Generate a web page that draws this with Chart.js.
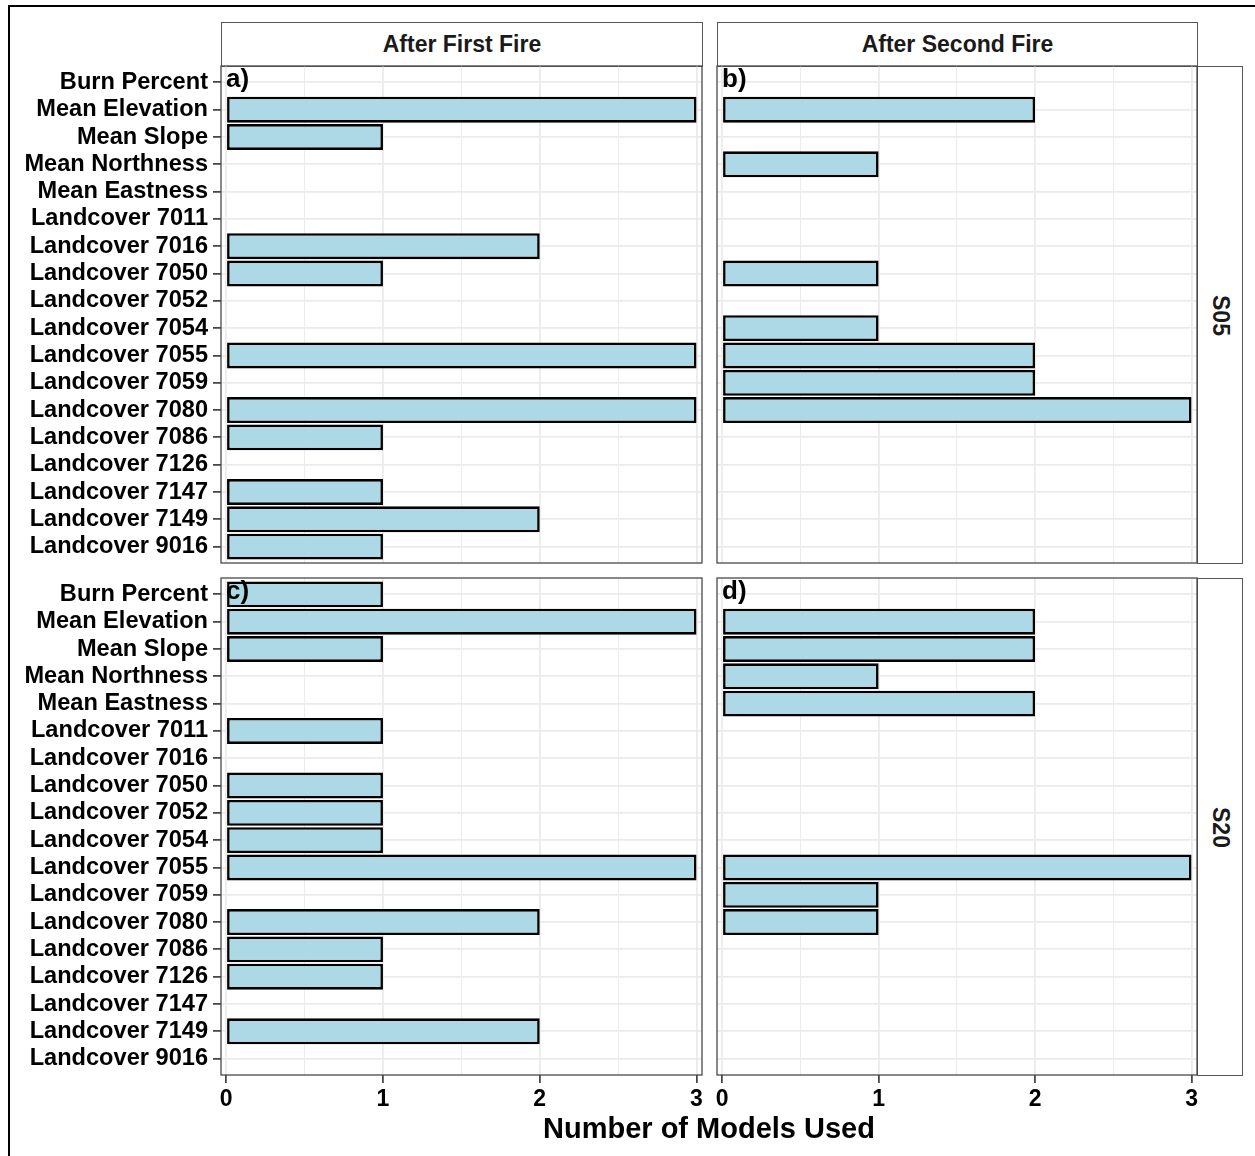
<!DOCTYPE html>
<html>
<head>
<meta charset="utf-8">
<script src="https://cdn.jsdelivr.net/npm/chart.js@4/dist/chart.umd.min.js"></script>
<style>
  html, body { margin: 0; padding: 0; background: #fff; }
  body { width: 1255px; height: 1156px; position: relative; overflow: hidden;
         font-family: "Liberation Sans", Arial, sans-serif; }
  .frame { position: absolute; left: 8px; top: 5px; width: 1300px; height: 1200px;
           border-left: 2px solid #000; border-top: 2px solid #000; }
  .strip { position: absolute; box-sizing: border-box; border: 1.3px solid #555; background: #fff;
           font-weight: bold; font-size: 23px; color: #1a1a1a;
           display: flex; align-items: center; justify-content: center; }
  .strip.side { writing-mode: vertical-rl; }
  .holder { position: absolute; }
  .xtitle { position: absolute; left: 221px; width: 976px; top: 1112px; text-align: center;
            font-weight: bold; font-size: 29px; color: #000; }
</style>
</head>
<body>
<div class="frame"></div>

<div class="strip" style="left:221px;top:22px;width:482px;height:45px;">After First Fire</div>
<div class="strip" style="left:717px;top:22px;width:481px;height:45px;">After Second Fire</div>
<div class="strip side" style="left:1197px;top:66px;width:46px;height:498px;">S05</div>
<div class="strip side" style="left:1197px;top:578px;width:46px;height:498px;">S20</div>

<div class="holder" id="pa"><canvas id="ca"></canvas></div>
<div class="holder" id="pb"><canvas id="cb"></canvas></div>
<div class="holder" id="pc"><canvas id="cc"></canvas></div>
<div class="holder" id="pd"><canvas id="cd"></canvas></div>

<div class="xtitle">Number of Models Used</div>

<script>
// Predictors listed top to bottom
const predictors = [
  "Burn Percent", "Mean Elevation", "Mean Slope", "Mean Northness", "Mean Eastness",
  "Landcover 7011", "Landcover 7016", "Landcover 7050", "Landcover 7052", "Landcover 7054",
  "Landcover 7055", "Landcover 7059", "Landcover 7080", "Landcover 7086", "Landcover 7126",
  "Landcover 7147", "Landcover 7149", "Landcover 9016"
];

// Number of models using each predictor
const s05FirstFire  = [0, 3, 1, 0, 0, 0, 2, 1, 0, 0, 3, 0, 3, 1, 0, 1, 2, 1];
const s05SecondFire = [0, 2, 0, 1, 0, 0, 0, 1, 0, 1, 2, 2, 3, 0, 0, 0, 0, 0];
const s20FirstFire  = [1, 3, 1, 0, 0, 1, 0, 1, 1, 1, 3, 0, 2, 1, 1, 0, 2, 0];
const s20SecondFire = [0, 2, 2, 1, 2, 0, 0, 0, 0, 0, 3, 1, 1, 0, 0, 0, 0, 0];

// Value axis: grid positions and labelled ticks
const xGridValues = [0, 0.5, 1, 1.5, 2, 2.5, 3];
const xTickLabels = [0, 1, 2, 3];

const panelTags = ["a)", "b)", "c)", "d)"];

const PAD = 24;
const FONT = '"Liberation Sans", Arial, sans-serif';

// Border and tag drawn on top of each panel
const panelDecor = {
  id: 'panelDecor',
  afterDatasetsDraw(chart, args, opts) {
    const a = chart.chartArea, ctx = chart.ctx;
    ctx.save();
    ctx.strokeStyle = '#4a4a4a';
    ctx.lineWidth = 1.3;
    ctx.strokeRect(a.left, a.top, a.right - a.left, a.bottom - a.top);
    ctx.fillStyle = '#000';
    ctx.font = 'bold 26px ' + FONT;
    ctx.textBaseline = 'top';
    ctx.textAlign = 'left';
    ctx.fillText(opts.tag, a.left + 5, a.top + 1);
    ctx.restore();
  }
};

function makePanel(holderId, canvasId, rect, values, tag, showY, showX) {
  const yw = showY ? 197 : 0;
  const xh = showX ? 40 : 0;
  const w = (rect.r - rect.l) + yw + 2 * PAD;
  const h = (rect.b - rect.t) + xh + 2 * PAD;
  const holder = document.getElementById(holderId);
  holder.style.left = (rect.l - yw - PAD) + 'px';
  holder.style.top = (rect.t - PAD) + 'px';
  holder.style.width = w + 'px';
  holder.style.height = h + 'px';
  const cv = document.getElementById(canvasId);
  cv.width = w; cv.height = h;
  cv.style.width = w + 'px'; cv.style.height = h + 'px';

  new Chart(cv, {
    type: 'bar',
    data: {
      datasets: [{
        data: values.map((v, i) => ({ x: v, y: i })),
        backgroundColor: '#ADD8E6',
        borderColor: '#000',
        borderWidth: c => (c.raw && c.raw.x > 0) ? 2.6 : 0,
        borderSkipped: false,
        barPercentage: 0.95,
        categoryPercentage: 1.0
      }]
    },
    options: {
      indexAxis: 'y',
      responsive: false,
      devicePixelRatio: 1,
      animation: false,
      layout: { padding: PAD },
      plugins: {
        legend: { display: false },
        tooltip: { enabled: false },
        panelDecor: { tag: tag }
      },
      scales: {
        x: {
          type: 'linear',
          min: -0.033,
          max: 3.035,
          offset: false,
          border: { display: false },
          afterBuildTicks: s => { s.ticks = xGridValues.map(v => ({ value: v })); },
          afterFit: s => { s.height = xh; },
          grid: {
            offset: false,
            color: '#EBEBEB',
            lineWidth: c => Number.isInteger(c.tick.value) ? 1.8 : 0.9,
            drawTicks: showX,
            tickLength: 8,
            tickColor: c => Number.isInteger(c.tick.value) ? '#333' : 'rgba(0,0,0,0)',
            tickWidth: 1.6
          },
          ticks: {
            display: showX,
            autoSkip: false,
            maxRotation: 0,
            padding: 3,
            color: '#000',
            font: { family: FONT, size: 23, weight: 'bold' },
            callback: v => xTickLabels.includes(v) ? String(v) : ''
          }
        },
        y: {
          type: 'linear',
          reverse: true,
          min: -0.6,
          max: predictors.length - 1 + 0.6,
          offset: false,
          border: { display: false },
          afterBuildTicks: s => { s.ticks = predictors.map((p, i) => ({ value: i })); },
          afterFit: s => { s.width = yw; },
          grid: {
            offset: false,
            color: '#EBEBEB',
            lineWidth: 1.8,
            drawTicks: showY,
            tickLength: 8,
            tickColor: '#333',
            tickWidth: 1.6
          },
          ticks: {
            display: showY,
            autoSkip: false,
            padding: 5,
            color: '#000',
            font: { family: FONT, size: 23.6, weight: 'bold' },
            callback: v => predictors[v]
          }
        }
      }
    },
    plugins: [panelDecor]
  });
}

makePanel('pa', 'ca', { l: 221, t: 66, r: 702, b: 563 },  s05FirstFire,  panelTags[0], true,  false);
makePanel('pb', 'cb', { l: 717, t: 66, r: 1197, b: 563 }, s05SecondFire, panelTags[1], false, false);
makePanel('pc', 'cc', { l: 221, t: 578, r: 702, b: 1075 }, s20FirstFire,  panelTags[2], true,  true);
makePanel('pd', 'cd', { l: 717, t: 578, r: 1197, b: 1075 }, s20SecondFire, panelTags[3], false, true);
</script>
</body>
</html>
